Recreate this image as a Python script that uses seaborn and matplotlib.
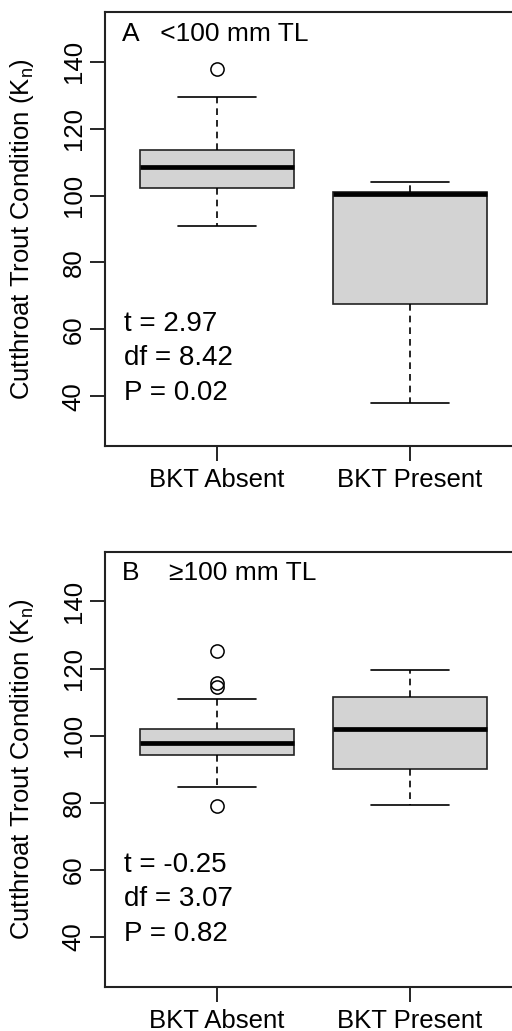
import matplotlib
matplotlib.use("Agg")
import matplotlib.pyplot as plt
import seaborn as sns
import pandas as pd

# ---- data ----
groups = ["BKT Absent", "BKT Present"]

# Panel A: <100 mm TL
a_absent = [90.8, 100.0, 102.2, 105.0, 108.4, 111.0, 113.6, 129.4, 137.9]
a_present = [38.0, 67.7, 100.6, 101.1, 104.0]

# Panel B: >=100 mm TL
b_absent = [79.0, 84.6, 88.0, 92.0, 94.3, 95.5, 96.5, 97.2, 97.9,
            99.0, 100.0, 101.0, 101.9, 110.9, 114.6, 115.6, 125.1]
b_present = [79.3, 90.1, 102.1, 111.5, 119.7]

panel_titles = ["A   <100 mm TL", "B    \u2265100 mm TL"]
stats_A = ["t = 2.97", "df = 8.42", "P = 0.02"]
stats_B = ["t = -0.25", "df = 3.07", "P = 0.82"]
yticks = [40, 60, 80, 100, 120, 140]
ylabel = "Cutthroat Trout Condition (K$_{\\mathrm{n}}$)"

sns.set_style("white")
plt.rcParams["font.family"] = ["Liberation Sans", "DejaVu Sans"]
plt.rcParams["mathtext.fontset"] = "custom"
plt.rcParams["mathtext.rm"] = "Liberation Sans"
plt.rcParams["mathtext.it"] = "Liberation Sans:italic"
for k in ["text.color", "axes.labelcolor", "xtick.color", "ytick.color"]:
    plt.rcParams[k] = "black"

FS = 18.5

fig = plt.figure(figsize=(5.12, 10.31), dpi=100)
W, H = 512, 1031


def make_df(absent, present):
    return pd.DataFrame({
        "group": [groups[0]] * len(absent) + [groups[1]] * len(present),
        "value": list(absent) + list(present),
    })


def draw(ax, df, title, stats):
    sns.boxplot(
        data=df, x="group", y="value", order=groups, ax=ax,
        color="#D3D3D3", saturation=1, width=0.8, linecolor="#222222",
        linewidth=1.2, whis=1.5,
        whiskerprops=dict(linestyle=(0, (4, 3)), color="black", linewidth=1.2),
        capprops=dict(color="black", linewidth=1.2),
        medianprops=dict(color="black", linewidth=3.4),
        flierprops=dict(marker="o", markerfacecolor="none",
                        markeredgecolor="black", markersize=9.5,
                        markeredgewidth=1.1),
    )
    ax.set_xlim(-0.58, 1.58)
    ax.set_ylim(25.2, 154.8)
    ax.set_yticks(yticks)
    ax.set_yticklabels([str(v) for v in yticks], rotation=90, va="center",
                       fontsize=FS)
    ax.set_xticks([0, 1])
    ax.set_xticklabels(groups, fontsize=FS)
    ax.tick_params(axis="both", which="major", direction="out", length=11,
                   width=1.2, color="black", labelcolor="black",
                   left=True, bottom=True)
    ax.tick_params(axis="y", pad=3)
    ax.tick_params(axis="x", pad=5)
    ax.set_xlabel("")
    ax.set_ylabel(ylabel, fontsize=FS, color="black")
    ax.yaxis.set_label_coords(-0.165, 0.5)
    for s in ax.spines.values():
        s.set_visible(True)
        s.set_color("#222222")
        s.set_linewidth(1.5)
    ax.text(0.041, 0.95, title, transform=ax.transAxes, fontsize=FS + 0.5,
            ha="left", va="center", color="black")
    for txt, yv in zip(stats, [61.6, 51.4, 41.0]):
        ax.text(-0.48, yv, txt, fontsize=FS + 1.5, ha="left", va="center",
                color="black")


left = 105 / W
width = (522 - 105) / W

axA = fig.add_axes([left, 1 - 446 / H, width, (446 - 12) / H])
draw(axA, make_df(a_absent, a_present), panel_titles[0], stats_A)

axB = fig.add_axes([left, 1 - 986.7 / H, width, (986.7 - 551.7) / H])
draw(axB, make_df(b_absent, b_present), panel_titles[1], stats_B)

fig.savefig("out.png", dpi=100)
